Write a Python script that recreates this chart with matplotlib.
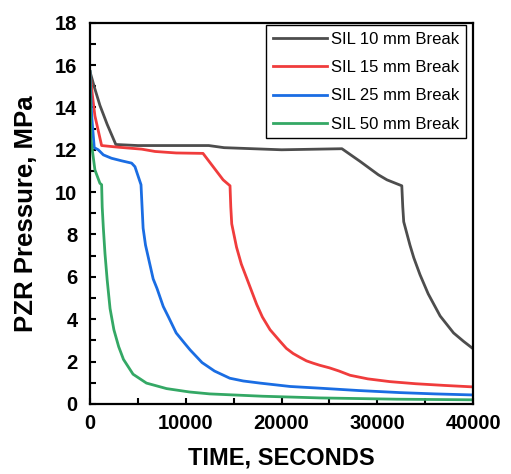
import matplotlib
matplotlib.use("Agg")
import matplotlib.pyplot as plt
from matplotlib.ticker import MultipleLocator

# pressurizer pressure after small inlet line (SIL) break
t_10 = [0, 500, 1040, 1800, 2700, 5000, 9000, 12400, 14000, 20000, 26300, 28200, 30100,
        31000, 32550, 32650, 32750, 33400, 33800, 34450, 35300, 36550, 37950, 39000, 40000]
p_10 = [15.7, 14.9, 14.1, 13.2, 12.25, 12.2, 12.2, 12.2, 12.1, 12.0, 12.05, 11.45, 10.82,
        10.58, 10.3, 9.3, 8.6, 7.5, 6.9, 6.1, 5.2, 4.15, 3.35, 2.95, 2.6]

t_15 = [0, 250, 520, 1220, 3000, 5400, 6800, 9000, 11800, 13900, 14620, 14700, 14800,
        15300, 15800, 16350, 17400, 18000, 18800, 19850, 20500, 21200, 21900, 22600, 23300,
        24000, 25000, 26000, 27150, 29000, 31300, 34000, 37000, 40000]
p_15 = [15.7, 14.6, 13.6, 12.2, 12.12, 12.03, 11.92, 11.85, 11.83, 10.58, 10.3, 9.3, 8.5,
        7.4, 6.6, 5.95, 4.7, 4.1, 3.5, 2.95, 2.62, 2.38, 2.2, 2.03, 1.92,
        1.82, 1.7, 1.55, 1.35, 1.18, 1.05, 0.95, 0.87, 0.8]

t_25 = [0, 180, 450, 870, 1400, 2250, 3300, 4350, 4700, 5330, 5420, 5550, 5800, 6100,
        6600, 7000, 7650, 8200, 9000, 9900, 10450, 11700, 13000, 14600, 16000, 17750,
        20900, 24000, 28000, 32400, 36000, 40000]
p_25 = [15.7, 13.6, 12.1, 12.0, 11.76, 11.6, 11.48, 11.37, 11.2, 10.35, 9.5, 8.3, 7.5, 6.9,
        5.9, 5.45, 4.6, 4.1, 3.35, 2.85, 2.55, 1.95, 1.55, 1.21, 1.08, 0.98,
        0.82, 0.74, 0.63, 0.53, 0.47, 0.42]

t_50 = [0, 100, 520, 1040, 1220, 1280, 1400, 1570, 1800, 2100, 2500, 3000, 3500, 4500,
        5900, 8000, 10400, 12500, 18000, 24000, 32000, 40000]
p_50 = [15.7, 12.5, 11.05, 10.42, 10.35, 9.3, 8.3, 7.1, 5.85, 4.5, 3.5, 2.7, 2.1, 1.4,
        0.98, 0.72, 0.56, 0.47, 0.36, 0.28, 0.22, 0.19]

labels = ["SIL 10 mm Break", "SIL 15 mm Break", "SIL 25 mm Break", "SIL 50 mm Break"]
colors = ["#4d4d4d", "#f03c3c", "#1a6de3", "#34a865"]

plt.rcParams["font.family"] = "Liberation Sans"

fig = plt.figure(figsize=(5.11, 4.74), dpi=100)
ax = fig.add_axes([0.176, 0.148, 0.750, 0.804])

for t, p, lab, c in zip([t_10, t_15, t_25, t_50], [p_10, p_15, p_25, p_50], labels, colors):
  ax.plot(t, p, color=c, lw=2, label=lab)

ax.set_xlim(0, 40000)
ax.set_ylim(0, 18)
ax.xaxis.set_major_locator(MultipleLocator(10000))
ax.xaxis.set_minor_locator(MultipleLocator(5000))
ax.yaxis.set_major_locator(MultipleLocator(2))
ax.yaxis.set_minor_locator(MultipleLocator(1))
ax.tick_params(which="both", direction="in", length=4, width=1.5, top=False, right=False)
ax.tick_params(labelsize=14.5)
ax.tick_params(axis="x", pad=7)
ax.tick_params(axis="y", pad=9)
for lab in ax.get_xticklabels() + ax.get_yticklabels():
  lab.set_fontweight("bold")
for s in ax.spines.values():
  s.set_linewidth(1.6)

ax.set_xlabel("TIME, SECONDS", fontsize=17, fontweight="bold", labelpad=10)
ax.set_ylabel("PZR Pressure, MPa", fontsize=18.5, fontweight="bold", labelpad=12)

leg = ax.legend(loc="upper right", bbox_to_anchor=(0.982, 0.994), fontsize=12,
                frameon=True, fancybox=False, framealpha=1, edgecolor="black",
                handlelength=3.25, handletextpad=0.25, labelspacing=0.8, borderpad=0.4,
                borderaxespad=0)
leg.get_frame().set_linewidth(1)

fig.savefig("out.png", dpi=100)
